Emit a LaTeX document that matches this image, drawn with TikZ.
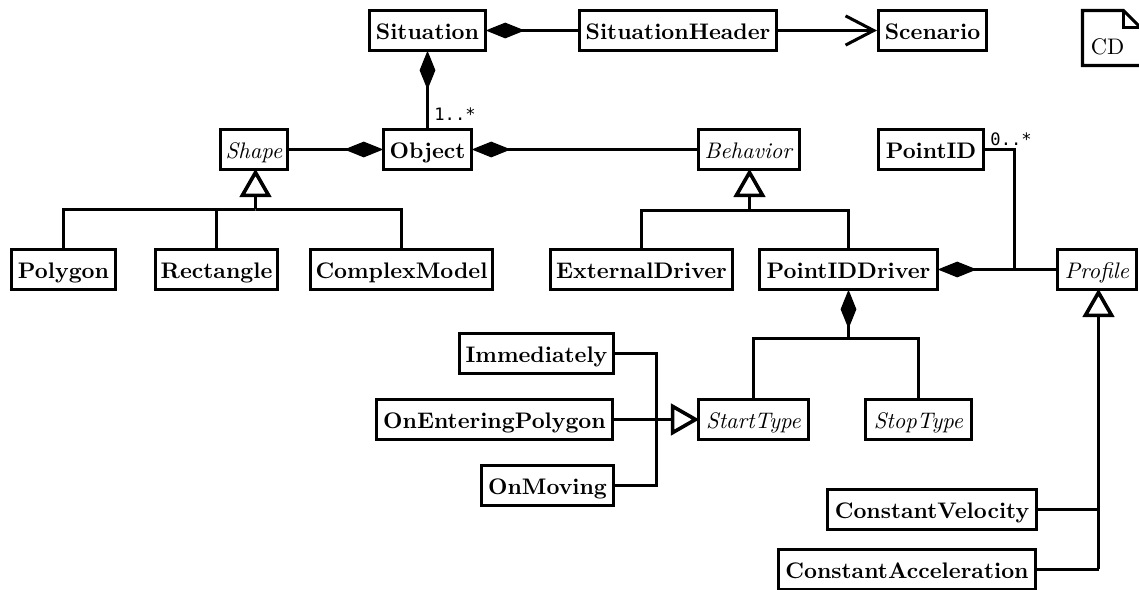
\documentclass[tikz,border=0pt]{standalone}
\usepackage{fontspec}
\newfontfamily\multfont{DejaVu Sans Mono}
\usetikzlibrary{arrows.meta}
\tikzset{
  umlbox/.style={draw,line width=1.35pt,inner sep=0pt,align=center,fill=white,text height=8.3pt,text depth=0pt},
  conn/.style={line width=1.35pt},
  comp/.style={conn,shorten <=-0.6pt,{Diamond[length=17.4pt,width=7pt]}-},
  gen/.style={conn,shorten >=-1pt,-{Triangle[open,fill=white,length=12.6pt,width=14pt,line width=1.6pt]}},
  nav/.style={conn,-{Straight Barb[length=12.5pt,width=13pt,line width=1.35pt]}},
  mult/.style={inner sep=0pt,font=\multfont\fontsize{7.6}{9}\selectfont}
}
\newcommand{\cls}[6]{%
  \pgfmathsetmacro{\cxx}{(#2+#3)/2}\pgfmathsetmacro{\cyy}{(#4+#5)/2}%
  \pgfmathsetmacro{\wdd}{(#3-#2-3)*0.4444}\pgfmathsetmacro{\htt}{(#5-#4-3)*0.4444}%
  \node[umlbox,minimum width=\wdd pt,minimum height=\htt pt] (#1) at (\cxx,\cyy) {#6};}
\begin{document}
\begin{tikzpicture}[x=0.4444pt,y=-0.4444pt]
\useasboundingbox (0,0) rectangle (1139,590);
\clip (0,0) rectangle (1139,590);
% classes
\cls{situation}{368}{487}{9}{52}{\textbf{Situation}}
\cls{header}{578}{778}{9}{52}{\textbf{SituationHeader}}
\cls{scenario}{877}{988}{9}{52}{\textbf{Scenario}}
\cls{object}{382}{473}{128}{171}{\textbf{Object}}
\cls{shape}{219}{289}{128}{171}{\textit{Shape}}
\cls{behavior}{697}{801}{128}{171}{\textit{Behavior}}
\cls{pointid}{877}{985}{128}{171}{\textbf{PointID}}
\cls{polygon}{10}{117}{248}{291}{\textbf{Polygon}}
\cls{rectangle}{154}{279}{248}{291}{\textbf{Rectangle}}
\cls{complex}{309}{494}{248}{291}{\textbf{ComplexModel}}
\cls{external}{549}{734}{248}{291}{\textbf{ExternalDriver}}
\cls{driver}{758}{939}{248}{291}{\textbf{PointIDDriver}}
\cls{profile}{1056}{1138}{248}{291}{\textit{Profile}}
\cls{immediately}{458}{615}{332}{375}{\textbf{Immediately}}
\cls{entering}{375}{614}{398}{441}{\textbf{OnEnteringPolygon}}
\cls{moving}{480}{615}{464}{507}{\textbf{OnMoving}}
\cls{start}{697}{810}{398}{441}{\textit{StartType}}
\cls{stop}{864}{973}{398}{441}{\textit{StopType}}
\cls{velocity}{826}{1038}{488}{531}{\textbf{ConstantVelocity}}
\cls{accel}{777}{1037}{548}{591}{\textbf{ConstantAcceleration}}
% CD note
\draw[conn] (1145,65.5) -- (1082.5,65.5) -- (1082.5,10.5) -- (1123.5,10.5) -- (1145,32);
\draw[conn] (1123.5,10.5) -- (1123.5,27.5) -- (1145,27.5);
\node[inner sep=0pt] (cd) at (1107.5,47) {CD};
% junctions
\coordinate (shapebus) at (255.5,209.5);
\coordinate (behbus) at (749.5,210.5);
\coordinate (pidj) at (1014.5,269.5);
\coordinate (typebus) at (848.5,338.5);
\coordinate (genj) at (656.5,419.5);
\coordinate (profbus) at (1098.5,569.5);
\coordinate (velj) at (1098.5,509.5);
% associations
\draw[comp] (situation.east) -- (header.west);
\draw[nav] (header.east) -- (scenario.west);
\draw[comp] (situation.south) -- (situation.south |- object.north);
\draw[comp] (object.west) -- (shape.east);
\draw[comp] (object.east) -- (behavior.west);
\draw[comp] (driver.east) -- (profile.west);
\draw[conn] (pointid.east) -| (pidj);
\draw[comp] (typebus |- driver.south) -- (typebus);
\draw[conn] (start.north) |- (typebus) -| (stop.north);
% generalisations
\draw[gen] (shapebus) -- (shapebus |- shape.south);
\draw[conn] (polygon.north) |- (shapebus) -| (rectangle.north);
\draw[conn] (shapebus) -| (complex.north);
\draw[gen] (behbus) -- (behbus |- behavior.south);
\draw[conn] (external.north) |- (behbus) -| (driver.north);
\draw[gen] (entering.east) -- (start.west);
\draw[conn] (immediately.east) -| (genj) |- (moving.east);
\draw[gen] (profbus) -- (profbus |- profile.south);
\draw[conn] (accel.east |- profbus) -- (profbus);
\draw[conn] (velocity.east) -- (velj);
% multiplicities
\node[mult,anchor=west] (m1) at (434,114) {1..*};
\node[mult,anchor=west] (m2) at (990,139) {0..*};
\end{tikzpicture}
\end{document}
